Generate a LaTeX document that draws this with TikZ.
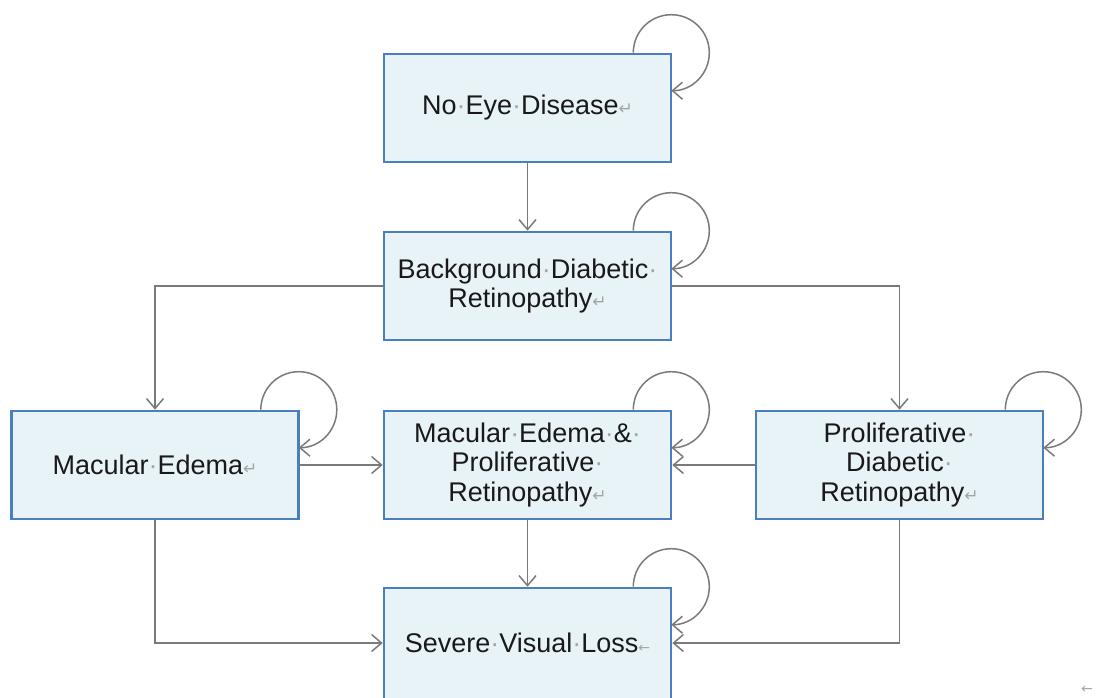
\documentclass[tikz,border=0pt]{standalone}
\usepackage{fontspec}
\setmainfont{Liberation Sans}
\newfontfamily\markfont{DejaVu Sans}
\usetikzlibrary{arrows.meta}

\definecolor{boxfill}{RGB}{232,243,248}
\definecolor{boxline}{RGB}{74,126,190}
\definecolor{linkgray}{RGB}{122,122,122}
\definecolor{markgray}{RGB}{165,165,165}

% formatting marks shown in the labels
\newcommand{\spc}{\textcolor{markgray}{·}}
\newcommand{\pmark}{{\markfont\fontsize{17}{17}\selectfont\textcolor{markgray}{↵}}}
\newcommand{\lmark}{{\markfont\fontsize{14}{14}\selectfont\textcolor{markgray}{←}}}

\tikzset{
  statebox/.style={draw=boxline, line width=2.6pt, fill=boxfill,
    minimum width=287pt, minimum height=108pt, inner sep=0pt,
    align=center, text=black!90, font=\fontsize{27}{29.5}\selectfont},
  link/.style={draw=linkgray, line width=1.5pt,
    -{Straight Barb[length=10pt,width=17pt,line width=1.5pt]}},
  selfloop/.style={link}
}

\begin{document}
\begin{tikzpicture}[x=1pt,y=-1pt]
\useasboundingbox (0,0) rectangle (1097,697);
\clip (0,0) rectangle (1097,697);

% states
\node[statebox] (ned)  at (527.5,108) {No\spc Eye\spc Disease\pmark};
\node[statebox] (bdr)  at (527.5,286) {Background\spc Diabetic\spc\\Retinopathy\pmark};
\node[statebox] (me)   at (155,465)   {Macular\spc Edema\pmark};
\node[statebox] (mepr) at (527.5,465) {Macular\spc Edema\spc \&\spc\\Proliferative\spc\\Retinopathy\pmark};
\node[statebox] (pdr)  at (899.5,465) {Proliferative\spc\\Diabetic\spc\\Retinopathy\pmark};
\node[statebox, minimum height=116pt] (svl) at (527.5,646) {};
\node[font=\fontsize{27}{29.5}\selectfont, text=black!90, inner sep=0pt] (svltext) at (527.5,643) {Severe\spc Visual\spc Loss\lmark};

% transitions
\draw[link] (ned) -- (bdr);
\draw[link] (bdr.west) -| (me.north);
\draw[link] (bdr.east) -| (pdr.north);
\draw[link] (me.east) -- (mepr.west);
\draw[link] (pdr.west) -- (mepr.east);
\draw[link] (mepr) -- (svl);
\draw[link] (me.south) |- (svl.west |- svltext);
\draw[link] (pdr.south) |- (svl.east |- svltext);

% self transitions
\foreach \s in {ned,bdr,me,mepr,pdr,svl}{
  \draw[selfloop] ([xshift=-39pt]\s.north east) arc[start angle=180, end angle=-90, radius=38pt];
}

% trailing paragraph mark
\node[inner sep=0pt] (endmark) at (1087,690) {\lmark};
\end{tikzpicture}
\end{document}
